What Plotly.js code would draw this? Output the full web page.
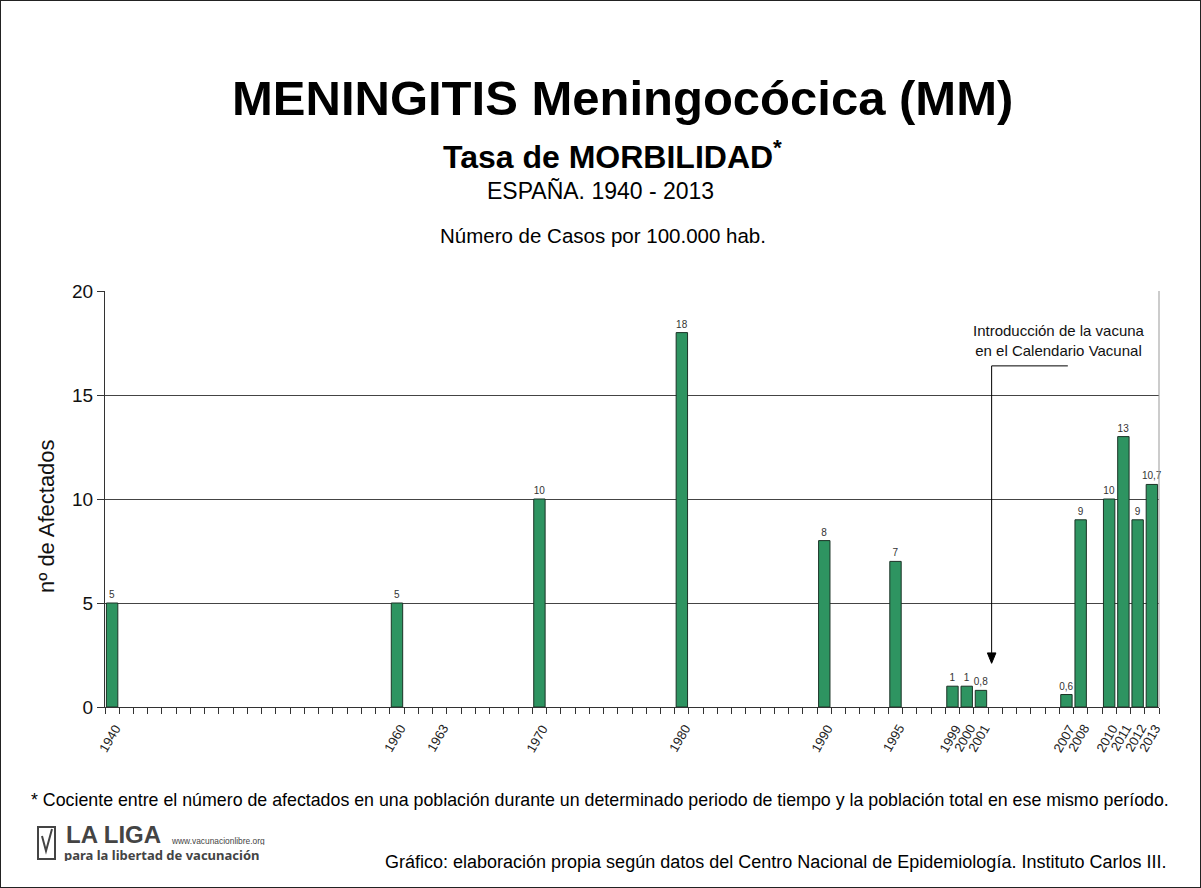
<!DOCTYPE html>
<html>
<head>
<meta charset="utf-8">
<script src="https://cdn.plot.ly/plotly-3.0.1.min.js"></script>
<style>
  html, body { margin: 0; padding: 0; background: #fff; }
  #wrap { position: relative; width: 1201px; height: 888px; }
  #chart { width: 1201px; height: 888px; }
  #frame { position: absolute; left: 0; top: 0; width: 1201px; height: 888px; box-sizing: border-box; border: 1px solid #222; pointer-events: none; }
</style>
</head>
<body>
<div id="wrap"><div id="chart"></div><div id="frame"></div></div>
<script>
// ---- data ----
const years = [1940, 1960, 1970, 1980, 1990, 1995, 1999, 2000, 2001, 2007, 2008, 2010, 2011, 2012, 2013];
const rates = [5, 5, 10, 18, 8, 7, 1, 1, 0.8, 0.6, 9, 10, 13, 9, 10.7];
const rateLabels = ['5', '5', '10', '18', '8', '7', '1', '1', '0,8', '0,6', '9', '10', '13', '9', '10,7'];
const tickYears = [1940, 1960, 1963, 1970, 1980, 1990, 1995, 1999, 2000, 2001, 2007, 2008, 2010, 2011, 2012, 2013];
const tickLabels = tickYears.map(String);
const yTicks = [0, 5, 10, 15, 20];

// annotation anchor (vaccine introduction)
const vaccineX = 2001.75;
const vaccineTopY = 16.4;
const vaccineTipY = 2.1;
const vaccineElbowEndX = 2007.1;
const vaccineTextX = 2006.5;
const vaccineTextY = 17.6;
const arrowHalfW = 0.3;   // years
const arrowLen = 0.5;     // y units

// ---- layout helpers (pixel -> paper) ----
const W = 1201, H = 888;
const M = {l: 105, r: 42, t: 291, b: 181};
const pw = W - M.l - M.r, ph = H - M.t - M.b;
const px = x => (x - M.l) / pw;
const py = y => (H - M.b - y) / ph;

const FONT = 'Liberation Sans, Arial, sans-serif';

const trace = {
  type: 'bar',
  x: years,
  y: rates,
  width: 0.8,
  marker: {color: '#2e9461', line: {color: '#1b3326', width: 1}},
  text: rateLabels,
  textposition: 'outside',
  constraintext: 'none',
  cliponaxis: false,
  textfont: {family: FONT, size: 10, color: '#333'},
  hoverinfo: 'x+y'
};

const annotations = [
  {xref: 'paper', yref: 'paper', x: px(622), y: py(98), text: '<b>MENINGITIS Meningocócica (MM)</b>', showarrow: false,
   font: {family: FONT, size: 49, color: '#000'}, xanchor: 'center', yanchor: 'middle'},
  {xref: 'paper', yref: 'paper', x: px(612), y: py(155), text: '<b>Tasa de MORBILIDAD<sup>*</sup></b>', showarrow: false,
   font: {family: FONT, size: 32, color: '#000'}, xanchor: 'center', yanchor: 'middle'},
  {xref: 'paper', yref: 'paper', x: px(600), y: py(191), text: 'ESPAÑA. 1940 - 2013', showarrow: false,
   font: {family: FONT, size: 23, color: '#000'}, xanchor: 'center', yanchor: 'middle'},
  {xref: 'paper', yref: 'paper', x: px(603), y: py(236), text: 'Número de Casos por 100.000 hab.', showarrow: false,
   font: {family: FONT, size: 20.5, color: '#000'}, xanchor: 'center', yanchor: 'middle'},
  // y axis title
  {xref: 'paper', yref: 'paper', x: px(46), y: py(516), text: 'nº de Afectados', showarrow: false, textangle: -90,
   font: {family: FONT, size: 22, color: '#111'}, xanchor: 'center', yanchor: 'middle'},
  // vaccine note
  {xref: 'x', yref: 'y', x: vaccineTextX, y: vaccineTextY, text: 'Introducción de la vacuna<br>en el Calendario Vacunal', showarrow: false,
   font: {family: FONT, size: 15, color: '#111'}, xanchor: 'center', yanchor: 'middle', align: 'center'},
  // footnotes
  {xref: 'paper', yref: 'paper', x: px(600), y: py(800), text: '* Cociente entre el número de afectados en una población durante un determinado periodo de tiempo y la población total en ese mismo período.', showarrow: false,
   font: {family: FONT, size: 17.8, color: '#000'}, xanchor: 'center', yanchor: 'middle'},
  {xref: 'paper', yref: 'paper', x: px(1168), y: py(862), text: 'Gráfico: elaboración propia según datos del Centro Nacional de Epidemiología. Instituto Carlos III.', showarrow: false,
   font: {family: FONT, size: 18, color: '#000'}, xanchor: 'right', yanchor: 'middle'},
  // logo text
  {xref: 'paper', yref: 'paper', x: px(64), y: py(834), text: '<b>LA LIGA</b>', showarrow: false,
   font: {family: FONT, size: 24, color: '#444'}, xanchor: 'left', yanchor: 'middle', height: 21},
  {xref: 'paper', yref: 'paper', x: px(169), y: py(840), text: 'www.vacunacionlibre.org', showarrow: false,
   font: {family: FONT, size: 8.4, color: '#444'}, xanchor: 'left', yanchor: 'middle', height: 9},
  {xref: 'paper', yref: 'paper', x: px(62), y: py(854), text: '<b>para la libertad de vacunación</b>', showarrow: false,
   font: {family: 'Noto Sans, sans-serif', size: 13, color: '#444'}, xanchor: 'left', yanchor: 'middle', height: 13}
];

// x tick labels, rotated like the reference
tickYears.forEach((yr, i) => {
  annotations.push({
    xref: 'x', yref: 'paper', x: yr, y: 0, yshift: -12, xshift: 14,
    text: tickLabels[i], showarrow: false, textangle: -60,
    xanchor: 'right', yanchor: 'top',
    font: {family: FONT, size: 13, color: '#222'}
  });
});

const shapes = [
  // right border of plot
  {type: 'line', xref: 'paper', yref: 'paper', x0: 1, x1: 1, y0: 0, y1: 1, line: {color: '#999', width: 1}},
  // elbow + stem of vaccine note
  {type: 'line', xref: 'x', yref: 'y', x0: vaccineX, x1: vaccineElbowEndX, y0: vaccineTopY, y1: vaccineTopY, line: {color: '#000', width: 1}},
  {type: 'line', xref: 'x', yref: 'y', x0: vaccineX, x1: vaccineX, y0: vaccineTopY, y1: vaccineTipY + arrowLen, line: {color: '#000', width: 1}},
  {type: 'path', xref: 'x', yref: 'y',
   path: `M ${vaccineX - arrowHalfW},${vaccineTipY + arrowLen} L ${vaccineX + arrowHalfW},${vaccineTipY + arrowLen} L ${vaccineX},${vaccineTipY} Z`,
   fillcolor: '#000', line: {color: '#000', width: 1}},
  // logo icon
  {type: 'rect', xref: 'paper', yref: 'paper', x0: px(38), x1: px(55), y0: py(859), y1: py(827), line: {color: '#444', width: 2}, fillcolor: 'rgba(0,0,0,0)'},
  {type: 'path', xref: 'paper', yref: 'paper', path: `M ${px(42)},${py(836)} L ${px(46)},${py(851)} L ${px(52)},${py(829)}`, line: {color: '#444', width: 2}}
];

const layout = {
  width: W, height: H,
  margin: M,
  paper_bgcolor: '#fff', plot_bgcolor: '#fff',
  showlegend: false,
  bargap: 0,
  xaxis: {
    range: [1939.5, 2013.5],
    tickmode: 'array', tickvals: tickYears, ticktext: tickLabels,
    showticklabels: false, ticks: '',
    showgrid: false, zeroline: false,
    showline: true, linecolor: '#333', linewidth: 1,
    minor: {tick0: 1939.5, dtick: 1, ticks: 'outside', ticklen: 6, tickcolor: '#333', tickwidth: 1, showgrid: false},
    fixedrange: true
  },
  yaxis: {
    range: [0, 20],
    tickmode: 'array', tickvals: yTicks,
    ticks: 'outside', ticklen: 7, tickcolor: '#333',
    tickfont: {family: FONT, size: 19, color: '#111'},
    showgrid: true, gridcolor: '#444', gridwidth: 1,
    zeroline: false, showline: true, linecolor: '#333', linewidth: 1,
    fixedrange: true
  },
  annotations: annotations,
  shapes: shapes
};

Plotly.newPlot('chart', [trace], layout, {displayModeBar: false, staticPlot: true});
</script>
</body>
</html>
